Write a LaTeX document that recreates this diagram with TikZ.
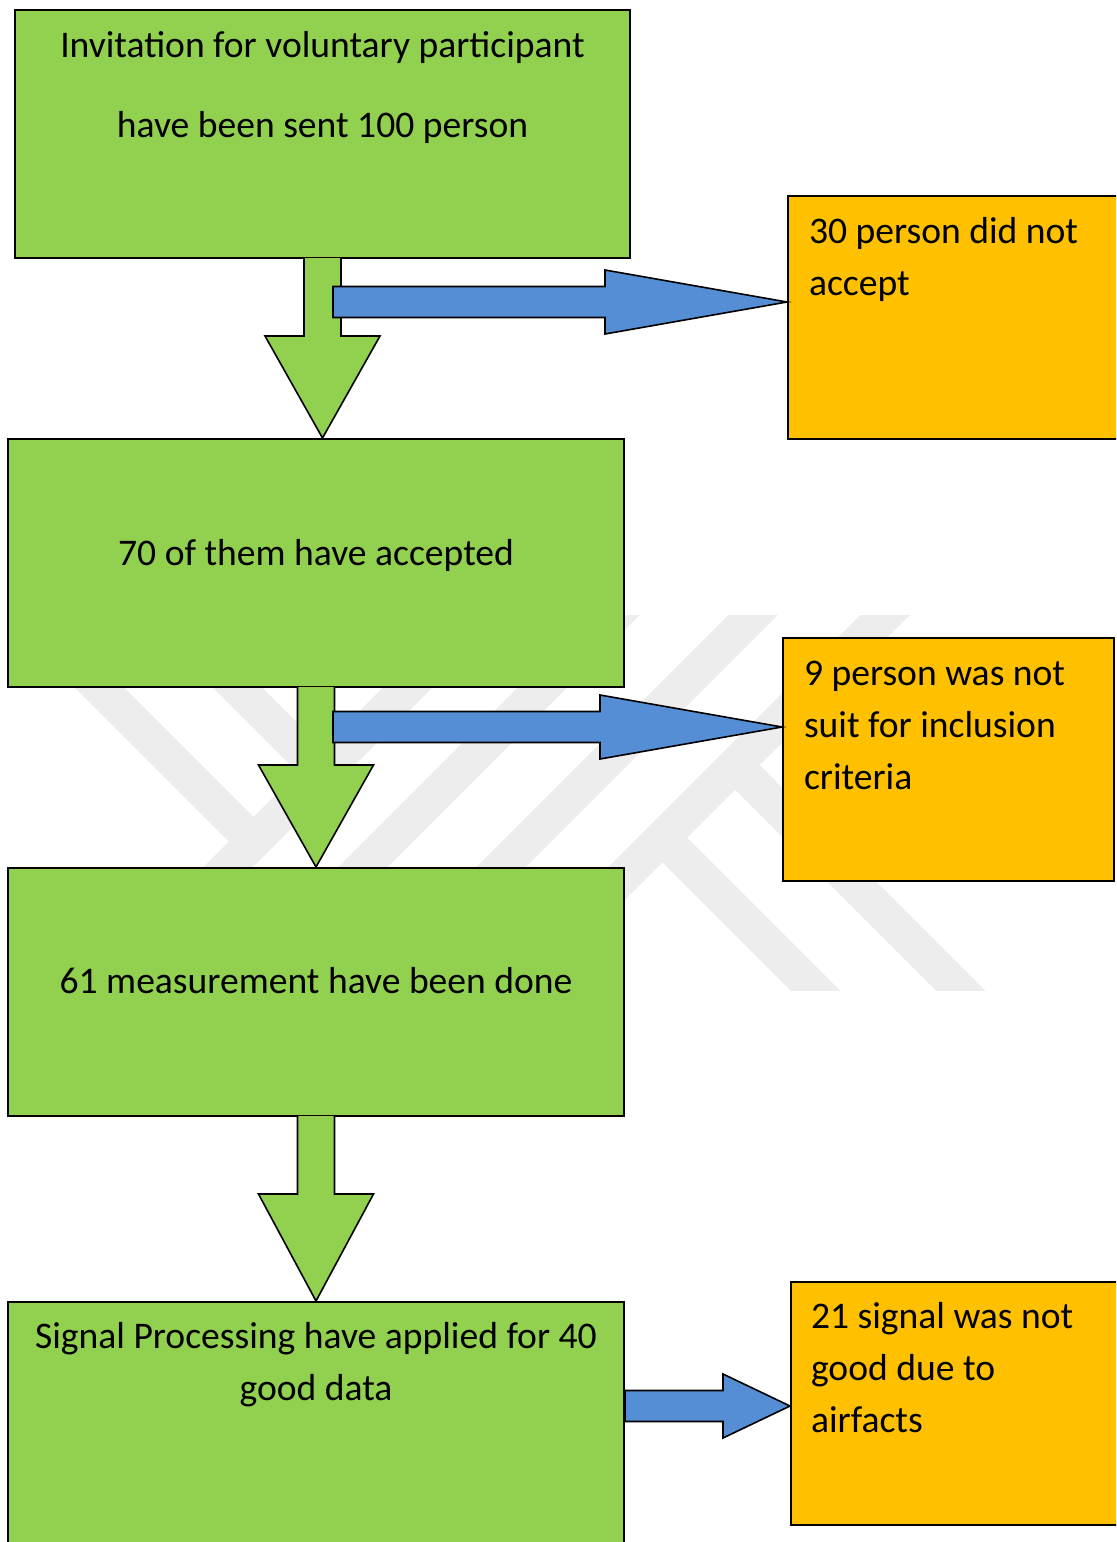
\documentclass[tikz,border=0pt]{standalone}
\usepackage{fontspec}
\setmainfont{Carlito}
\usetikzlibrary{calc}

\definecolor{stagegreen}{HTML}{92D050}
\definecolor{dropyellow}{HTML}{FFC000}
\definecolor{flowblue}{HTML}{558ED5}
\tikzset{every picture/.style={line width=1pt},
  stage/.style={draw, fill=stagegreen, minimum width=308pt, minimum height=124pt, inner sep=0},
  drop/.style={draw, fill=dropyellow, minimum width=170pt, minimum height=121.5pt, inner sep=0},
  txt/.style={inner sep=0, font=\fontsize{18.8}{26}\selectfont},
  downarrow/.style={draw, fill=stagegreen, line width=0.8pt},
  sidearrow/.style={draw, fill=flowblue, line width=0.8pt},
  wmband/.style={draw=black!7, line width=17.5pt}}

\begin{document}
\begin{tikzpicture}[x=0.5pt, y=-0.5pt]
\useasboundingbox (0,0) rectangle (1116,1542);
\clip (0,0) rectangle (1116,1542);
% watermark in the background
\begin{scope}
\clip (70,615) rectangle (995,990);
\draw[wmband] (0,588) -- (253.5,841.5);
\draw[wmband] (150,600) -- (322.5,772.5);
\foreach \c in {1095, 1230, 1368, 1500}
  \draw[wmband] ({\c-590},590) -- ({\c-1010},1010);
\draw[wmband] (735,765) -- (1000,1030);
\draw[wmband] (662,837) -- (850,1025);
\end{scope}

% boxes
\node (s1) at (322.5,134) [stage, minimum width=307.5pt] {};
\node (s2) at (316,563) [stage] {};
\node (s3) at (316,992) [stage] {};
\node (s4) at (316,1431) [stage, minimum height=129pt] {};
\node (r1) at (959,317.5) [drop, minimum width=171pt] {};
\node (r2) at (948.5,759.5) [drop, minimum width=165.5pt] {};
\node (r3) at (960.5,1403.5) [drop, minimum width=169.5pt] {};

% texts
\node (l1) at ($(s1.north)+(0,-9)$) [txt, font=\fontsize{18.8}{40}\selectfont, align=center, anchor=north] {\strut Invitation for voluntary participant\\have been sent 100 person};
\node (l2) at ($(s2.center)+(0,2)$) [txt, anchor=base] {70 of them have accepted};
\node (l3) at ($(s3.center)+(0,1)$) [txt, anchor=base] {61 measurement have been done};
\node (l4) at ($(s4.north)+(0,9.6)$) [txt, align=center, anchor=north] {\strut Signal Processing have applied for 40\\good data};
\node (m1) at ($(r1.north west)+(21,10.6)$) [txt, align=left, anchor=north west] {\strut 30 person did not\\accept};
\node (m2) at ($(r2.north west)+(21,10.6)$) [txt, align=left, anchor=north west] {\strut 9 person was not\\suit for inclusion\\criteria};
\node (m3) at ($(r3.north west)+(20,9.6)$) [txt, align=left, anchor=north west] {\strut 21 signal was not\\good due to\\airfacts};

% green arrows down
\foreach \a/\b in {s1/s2, s2/s3, s3/s4}
  \draw[downarrow] ($(\a.south)+(-18.5,-1)$) -- ++(0,78) -- ++(-39,0) -- (\a.south |- \b.north) -- ($(\a.south)+(57.5,77)$) -- ++(-39,0) -- ++(0,-78);

% blue arrows to the side
\coordinate (t1) at ($(r1.west)+(0,-15.5)$);
\coordinate (t2) at ($(r2.west)+(0,-32.5)$);
\coordinate (t3) at ($(r3.west)+(0,2.5)$);
\coordinate (f1) at ($(t1 -| s1.south)+(10.5,0)$);
\coordinate (f2) at ($(t2 -| s2.south)+(17,0)$);
\coordinate (f3) at (t3 -| s4.east);
\foreach \f/\t/\h in {f1/t1/182, f2/t2/182, f3/t3/67}
  \draw[sidearrow] ($(\f)+(0,-15.5)$) -- ($(\t)+(-\h,-15.5)$) -- ++(0,-16.5) -- (\t) -- ($(\t)+(-\h,32)$) -- ++(0,-16.5) -- ($(\f)+(0,15.5)$) -- cycle;
\end{tikzpicture}
\end{document}
